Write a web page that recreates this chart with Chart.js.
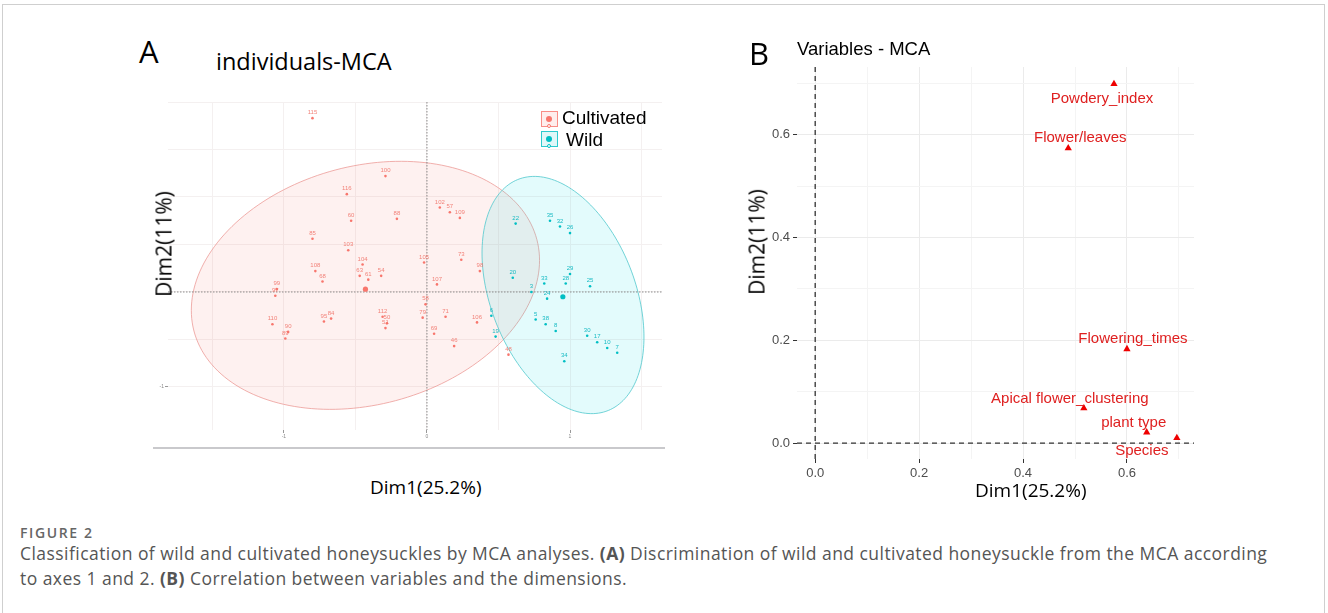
<!DOCTYPE html>
<html><head><meta charset="utf-8">
<script src="https://cdn.jsdelivr.net/npm/chart.js@4.4.1/dist/chart.umd.min.js"></script>
<style>
html,body{margin:0;padding:0;background:#fff;width:1328px;height:613px;overflow:hidden;position:relative;font-family:"Liberation Sans",Arial,sans-serif;}
.frame{position:absolute;left:2px;top:4px;width:1321px;height:640px;border:1px solid #cfcfcf;}
.t{position:absolute;white-space:nowrap;line-height:1;}
canvas{position:absolute;}
.cap{position:absolute;left:20px;font-family:"Open Sans",sans-serif;color:#555;white-space:nowrap;}
.box{position:absolute;width:17px;height:16px;border:1.5px solid;box-sizing:border-box;}
.dot{position:absolute;left:4px;top:3.5px;width:6px;height:6px;border-radius:50%;}
.ring{position:absolute;left:5px;top:12px;width:4px;height:4px;border-radius:50%;border:1px solid;box-sizing:border-box;background:#fff;}
</style></head><body>
<div class="frame"></div>

<canvas id="cA" width="540" height="360" style="left:140px;top:90px"></canvas>
<canvas id="cB" width="470" height="440" style="left:740px;top:40px"></canvas>

<div style="position:absolute;left:153px;top:447px;width:512px;height:2px;background:#c9c9cc"></div>

<div class="t" style="left:139px;top:36px;font-size:31px;font-family:'Open Sans',sans-serif;">A</div>
<div class="t" style="left:216px;top:50px;font-size:23.5px;font-family:'Open Sans',sans-serif;">individuals-MCA</div>
<div class="t" style="left:370px;top:478px;font-size:19px;font-family:'Open Sans',sans-serif;">Dim1(25.2%)</div>
<div class="t" style="left:164px;top:244px;font-size:21px;font-family:'Open Sans',sans-serif;transform:translate(-50%,-50%) rotate(-90deg);">Dim2(11%)</div>

<div class="box" style="left:541px;top:111px;border-color:rgba(248,118,109,0.8);background:rgba(248,118,109,0.12)"><div class="dot" style="background:#F8766D"></div><div class="ring" style="border-color:#F8766D"></div></div>
<div class="box" style="left:541px;top:131px;border-color:rgba(0,191,196,0.8);background:rgba(0,191,196,0.12)"><div class="dot" style="background:#00BFC4"></div><div class="ring" style="border-color:#00BFC4"></div></div>
<div class="t" style="left:562px;top:108px;font-size:19px;">Cultivated</div>
<div class="t" style="left:566px;top:130px;font-size:19px;">Wild</div>

<div class="t" style="left:749px;top:38px;font-size:31px;font-family:'Open Sans',sans-serif;">B</div>
<div class="t" style="left:797px;top:40px;font-size:18.5px;">Variables - MCA</div>
<div class="t" style="left:975px;top:481px;font-size:19px;font-family:'Open Sans',sans-serif;">Dim1(25.2%)</div>
<div class="t" style="left:757px;top:242px;font-size:21px;font-family:'Open Sans',sans-serif;transform:translate(-50%,-50%) rotate(-90deg);">Dim2(11%)</div>

<div class="cap" style="top:523px;font-size:14px;font-weight:600;letter-spacing:1.6px;color:#666;">FIGURE 2</div>
<div class="cap" style="top:541px;font-size:17.5px;letter-spacing:0.45px;line-height:25px;">Classification of wild and cultivated honeysuckles by MCA analyses. <b>(A)</b> Discrimination of wild and cultivated honeysuckle from the MCA according<br>to axes 1 and 2. <b>(B)</b> Correlation between variables and the dimensions.</div>

<script>
// ---------- Panel A data (individuals) ----------
const cultLabels = ["115","100","116","60","88","85","103","104","108","63","61","54","68","99","97","","105","102","57","109","73","107","98","58","95","84","110","90","89","112","50","51","79","71","106","69","46","48"];
const cultX = [-0.80,-0.29,-0.56,-0.53,-0.21,-0.80,-0.55,-0.45,-0.78,-0.47,-0.41,-0.32,-0.73,-1.05,-1.06,-0.43,-0.02,0.09,0.16,0.23,0.24,0.07,0.37,-0.01,-0.72,-0.67,-1.08,-0.97,-0.99,-0.31,-0.28,-0.29,-0.03,0.13,0.35,0.05,0.19,0.57];
const cultY = [1.83,1.22,1.03,0.75,0.77,0.56,0.44,0.29,0.22,0.17,0.13,0.17,0.11,0.03,-0.04,0.03,0.31,0.89,0.84,0.78,0.34,0.08,0.22,-0.13,-0.31,-0.28,-0.34,-0.42,-0.49,-0.26,-0.33,-0.38,-0.27,-0.26,-0.32,-0.44,-0.57,-0.66];
const wildLabels = ["22","35","32","26","20","29","33","28","25","3","24","","6","5","38","8","19","30","17","10","7","34"];
const wildX = [0.62,0.86,0.93,1.00,0.60,1.00,0.82,0.97,1.14,0.73,0.84,0.95,0.45,0.76,0.83,0.90,0.48,1.12,1.19,1.26,1.33,0.96];
const wildY = [0.72,0.75,0.69,0.62,0.15,0.19,0.09,0.09,0.06,0.00,-0.07,-0.05,-0.25,-0.29,-0.34,-0.41,-0.47,-0.46,-0.53,-0.59,-0.64,-0.73];
// concentration ellipses: centre x, centre y, conjugate half-axis u (x,y), v (x,y)
const cultEllipse = [-0.43, 0.07, 1.217, 0.263, 0, 1.279];
const wildEllipse = [0.951, -0.032, 0.566, -0.442, 0, 1.168];
const gridAx = [-1.5,-1,-0.5,0,0.5,1,1.5];
const gridAy = [-1,-0.5,0,0.5,1,1.5,2];
const xTickLabelsA = [-1,0,1];
const yTickLabelsA = [-1];

// ---------- Panel B data (variables) ----------
const varNames = ["Powdery_index","Flower/leaves","Flowering_times","Apical flower_clustering","plant type","Species"];
const varDim1 = [0.575,0.487,0.600,0.517,0.638,0.696];
const varDim2 = [0.699,0.574,0.183,0.068,0.021,0.010];
const gridB = [0,0.1,0.2,0.3,0.4,0.5,0.6,0.7];
const tickLabelsB = [0,0.2,0.4,0.6];
// label placement (repel offsets, px)
const varLabelDx = [-12,12,6,-14,-13,-35];
const varLabelDy = [15,-10,-10,-9,-9,13];

const RED = '#F8766D', CYAN = '#00BFC4';

function setTicks(vals){ return function(scale){ scale.ticks = vals.map(v=>({value:v})); }; }

const ellipsePlugin = {
  id:'ellipses',
  beforeDatasetsDraw(chart){
    const {ctx, chartArea:a, scales:{x,y}} = chart;
    const defs = [[cultEllipse,'rgba(248,118,109,0.10)','rgba(235,150,145,0.75)'],
                  [wildEllipse,'rgba(0,215,225,0.11)','rgba(80,200,205,0.8)']];
    ctx.save();
    ctx.beginPath(); ctx.rect(a.left,a.top,a.right-a.left,a.bottom-a.top); ctx.clip();
    defs.forEach(([e,fill,stroke])=>{
      ctx.beginPath();
      for(let i=0;i<=180;i++){
        const t=i/180*2*Math.PI;
        const px=x.getPixelForValue(e[0]+e[2]*Math.cos(t)+e[4]*Math.sin(t));
        const py=y.getPixelForValue(e[1]+e[3]*Math.cos(t)+e[5]*Math.sin(t));
        i?ctx.lineTo(px,py):ctx.moveTo(px,py);
      }
      ctx.closePath();
      ctx.fillStyle=fill; ctx.fill();
      ctx.strokeStyle=stroke; ctx.lineWidth=1; ctx.stroke();
    });
    ctx.strokeStyle='#8a8a8a'; ctx.lineWidth=1; ctx.setLineDash([1.5,1.5]);
    const x0=x.getPixelForValue(0), y0=y.getPixelForValue(0);
    ctx.beginPath(); ctx.moveTo(x0,a.top); ctx.lineTo(x0,a.bottom); ctx.stroke();
    ctx.beginPath(); ctx.moveTo(a.left,y0); ctx.lineTo(a.right,y0); ctx.stroke();
    ctx.restore();
  }
};

const pointLabelPlugin = {
  id:'pointLabels',
  afterDatasetsDraw(chart){
    const ctx=chart.ctx;
    ctx.save();
    ctx.font='6px "Liberation Sans", Arial, sans-serif';
    ctx.textAlign='center'; ctx.textBaseline='bottom';
    chart.data.datasets.forEach((ds,di)=>{
      const meta=chart.getDatasetMeta(di);
      ctx.fillStyle=ds.labelColor;
      meta.data.forEach((el,i)=>{
        const lab=ds.labels[i];
        if(lab) ctx.fillText(lab, el.x, el.y-2.5);
      });
    });
    ctx.restore();
  }
};

function pts(xs,ys){ return xs.map((v,i)=>({x:v,y:ys[i]})); }

new Chart(document.getElementById('cA'),{
  type:'scatter',
  data:{datasets:[
    {data:pts(cultX,cultY), labels:cultLabels, labelColor:'rgba(240,110,100,0.85)',
     backgroundColor:RED, borderColor:RED, pointRadius:cultLabels.map(l=>l?1.3:2.6), borderWidth:0},
    {data:pts(wildX,wildY), labels:wildLabels, labelColor:'rgba(0,180,190,0.9)',
     backgroundColor:CYAN, borderColor:CYAN, pointRadius:wildLabels.map(l=>l?1.3:2.6), borderWidth:0}
  ]},
  options:{
    responsive:false, animation:false, events:[],
    layout:{padding:{left:0,right:18,top:12,bottom:0}},
    plugins:{legend:{display:false},tooltip:{enabled:false}},
    scales:{
      x:{type:'linear',min:-1.81,max:1.643,afterBuildTicks:setTicks(gridAx),
         afterFit(s){s.height=20; s.paddingLeft=0; s.paddingRight=0;},
         border:{display:false},
         grid:{color:'#f4f0f0',tickLength:3,tickColor:c=>xTickLabelsA.includes(c.tick.value)?'#999':'rgba(0,0,0,0)'},
         ticks:{font:{size:5},color:'#888',padding:1,maxRotation:0,autoSkip:false,
                callback:v=>xTickLabelsA.includes(v)?String(v):''}},
      y:{type:'linear',min:-1.453,max:2.0,afterBuildTicks:setTicks(gridAy),
         afterFit(s){s.width=28;},
         border:{display:false},
         grid:{color:'#f4f0f0',tickLength:3,tickColor:c=>yTickLabelsA.includes(c.tick.value)?'#999':'rgba(0,0,0,0)'},
         ticks:{font:{size:5},color:'#888',padding:1,autoSkip:false,
                callback:v=>yTickLabelsA.includes(v)?String(v):''}}
    }
  },
  plugins:[ellipsePlugin,pointLabelPlugin]
});

const zeroLinesB = {
  id:'zeroLinesB',
  beforeDatasetsDraw(chart){
    const {ctx, chartArea:a, scales:{x,y}} = chart;
    ctx.save();
    ctx.strokeStyle='#333'; ctx.lineWidth=1.3; ctx.setLineDash([5,4]);
    const x0=x.getPixelForValue(0), y0=y.getPixelForValue(0);
    ctx.beginPath(); ctx.moveTo(x0,a.top); ctx.lineTo(x0,a.bottom+3); ctx.stroke();
    ctx.beginPath(); ctx.moveTo(a.left,y0); ctx.lineTo(a.right,y0); ctx.stroke();
    ctx.restore();
  },
  afterDatasetsDraw(chart){
    const ctx=chart.ctx; const meta=chart.getDatasetMeta(0);
    ctx.save();
    ctx.font='15px "Liberation Sans", Arial, sans-serif';
    ctx.fillStyle='#df2020'; ctx.textAlign='center'; ctx.textBaseline='middle';
    meta.data.forEach((el,i)=>{
      ctx.fillText(varNames[i], el.x+varLabelDx[i], el.y+varLabelDy[i]);
    });
    ctx.restore();
  }
};

const isMajorB = v => tickLabelsB.some(t=>Math.abs(t-v)<1e-9);
new Chart(document.getElementById('cB'),{
  type:'scatter',
  data:{datasets:[{data:pts(varDim1,varDim2), pointStyle:'triangle', pointRadius:4.2,
    backgroundColor:'#ee0000', borderColor:'#ee0000', borderWidth:0}]},
  options:{
    responsive:false, animation:false, events:[],
    layout:{padding:{left:0,right:16,top:27,bottom:0}},
    plugins:{legend:{display:false},tooltip:{enabled:false}},
    scales:{
      x:{type:'linear',min:-0.035,max:0.729,afterBuildTicks:setTicks(gridB),
         afterFit(s){s.height=21;},
         border:{display:false},
         grid:{color:c=>isMajorB(c.tick.value)?'#ebebeb':'#f4f4f4',tickLength:4,
               tickColor:c=>isMajorB(c.tick.value)?'#333':'rgba(0,0,0,0)'},
         ticks:{font:{size:13,family:'"Liberation Sans", Arial, sans-serif'},color:'#4d4d4d',padding:3,maxRotation:0,autoSkip:false,
                callback:v=>isMajorB(v)?v.toFixed(1):''}},
      y:{type:'linear',min:-0.031,max:0.732,afterBuildTicks:setTicks(gridB),
         afterFit(s){s.width=57;},
         border:{display:false},
         grid:{color:c=>isMajorB(c.tick.value)?'#ebebeb':'#f4f4f4',tickLength:4,
               tickColor:c=>isMajorB(c.tick.value)?'#333':'rgba(0,0,0,0)'},
         ticks:{font:{size:13,family:'"Liberation Sans", Arial, sans-serif'},color:'#4d4d4d',padding:3,autoSkip:false,
                callback:v=>isMajorB(v)?v.toFixed(1):''}}
    }
  },
  plugins:[zeroLinesB]
});
</script>
</body></html>
